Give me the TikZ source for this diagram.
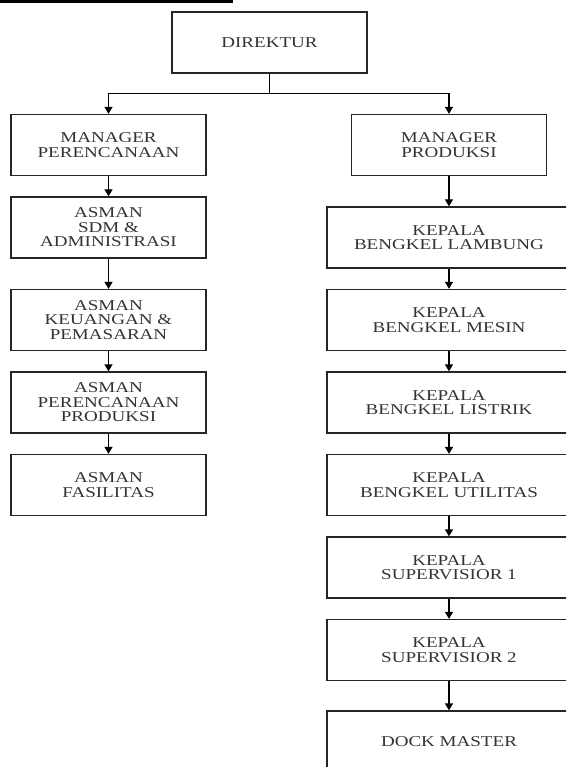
\documentclass[tikz,border=0pt]{standalone}
\usepackage{fontspec}
\setmainfont{Liberation Serif}[FakeStretch=1.27]
\usetikzlibrary{arrows.meta}
\tikzset{
  box/.style={draw=black!85, line width=1.3pt, rectangle, inner sep=0pt,
    minimum height=61pt, align=center, text=black!80,
    font=\fontsize{15}{14.5}\selectfont},
  lbox/.style={box, minimum width=195pt},
  rbox/.style={box, minimum width=244pt},
  conn/.style={line width=1.3pt, draw=black},
  arr/.style={conn, -{Triangle[width=8pt,length=7pt]}},
}
\begin{document}
\begin{tikzpicture}[x=1pt,y=-1pt]
\useasboundingbox (0,0) rectangle (566,767);
\clip (0,0) rectangle (566,767);
\fill[black] (0,0) rectangle (233,3);
\node[lbox] (dir) at (269.5,42.5) {DIREKTUR};
% left column
\node[lbox] (mp) at (108.5,145) {MANAGER\\PERENCANAAN};
\node[lbox] (sdm) at (108.5,227.5) {ASMAN\\SDM \&\\ADMINISTRASI};
\node[lbox] (keu) at (108.5,320) {ASMAN\\KEUANGAN \&\\PEMASARAN};
\node[lbox] (pp) at (108.5,402.5) {ASMAN\\PERENCANAAN\\PRODUKSI};
\node[lbox] (fas) at (108.5,485) {ASMAN\\FASILITAS};
% right column
\node[lbox] (mpr) at (449,145) {MANAGER\\PRODUKSI};
\node[rbox] (lam) at (449,237.5) {KEPALA\\BENGKEL LAMBUNG};
\node[rbox] (mes) at (449,320) {KEPALA\\BENGKEL MESIN};
\node[rbox] (lis) at (449,402.5) {KEPALA\\BENGKEL LISTRIK};
\node[rbox] (uti) at (449,485) {KEPALA\\BENGKEL UTILITAS};
\node[rbox] (sup1) at (449,567.5) {KEPALA\\SUPERVISIOR 1};
\node[rbox] (sup2) at (449,650) {KEPALA\\SUPERVISIOR 2};
\node[rbox] (dock) at (449,741.5) {DOCK MASTER};
% connectors
\draw[conn] (dir.south) -- ++(0,20) coordinate (j);
\draw[arr] (j) -| (mp.north);
\draw[arr] (j) -| (mpr.north);
\draw[arr] (mp) -- (sdm);
\draw[arr] (sdm) -- (keu);
\draw[arr] (keu) -- (pp);
\draw[arr] (pp) -- (fas);
\draw[arr] (mpr) -- (lam);
\draw[arr] (lam) -- (mes);
\draw[arr] (mes) -- (lis);
\draw[arr] (lis) -- (uti);
\draw[arr] (uti) -- (sup1);
\draw[arr] (sup1) -- (sup2);
\draw[arr] (sup2) -- (dock);
\end{tikzpicture}
\end{document}
